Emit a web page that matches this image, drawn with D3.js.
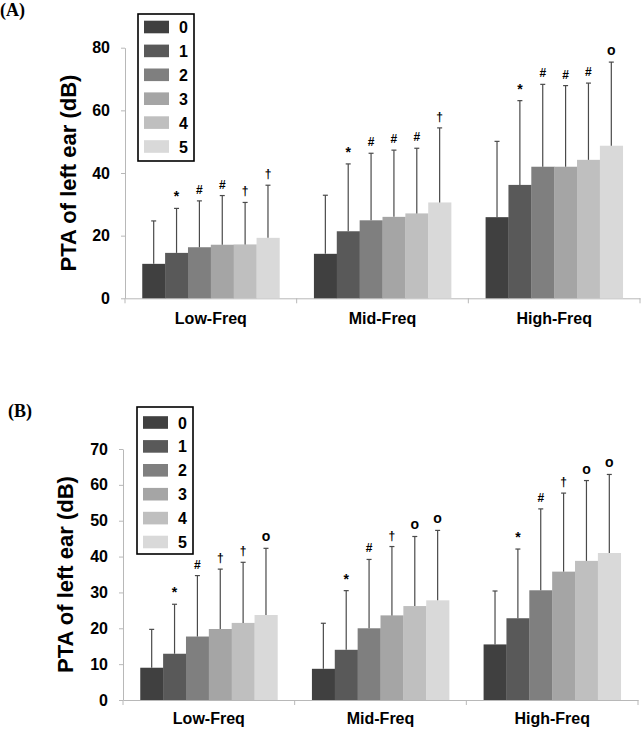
<!DOCTYPE html>
<html>
<head>
<meta charset="utf-8">
<script src="https://cdn.jsdelivr.net/npm/d3@7/dist/d3.min.js"></script>
<style>
  html, body { margin: 0; padding: 0; background: #fff; }
  svg { display: block; }
</style>
</head>
<body>
<svg id="chart" width="641" height="729"></svg>
<script>
const categories = ["Low-Freq", "Mid-Freq", "High-Freq"];
const groups = ["0", "1", "2", "3", "4", "5"];
const colors = ["#404040", "#595959", "#7f7f7f", "#a5a5a5", "#bfbfbf", "#d9d9d9"];

// Panel A: mean and SD per category (rows) and group (columns)
const meanA = [
  [11.0, 14.5, 16.3, 17.1, 17.2, 19.3],
  [14.2, 21.4, 24.9, 26.0, 27.1, 30.6],
  [25.9, 36.2, 42.0, 42.0, 44.2, 48.7]
];
const sdA = [
  [13.7, 14.2, 14.8, 15.7, 13.4, 16.8],
  [18.7, 21.5, 21.4, 21.3, 20.8, 23.8],
  [24.2, 26.9, 26.3, 25.9, 24.5, 26.7]
];
const markA = [
  ["", "*", "#", "#", "†", "†"],
  ["", "*", "#", "#", "#", "†"],
  ["", "*", "#", "#", "#", "o"]
];
const ticksA = [0, 20, 40, 60, 80];

// Panel B
const meanB = [
  [9.0, 12.9, 17.7, 19.8, 21.5, 23.7],
  [8.7, 14.0, 20.0, 23.6, 26.2, 27.8],
  [15.5, 22.8, 30.6, 35.8, 38.8, 41.0]
];
const sdB = [
  [10.7, 13.8, 17.0, 16.7, 16.9, 18.6],
  [12.7, 16.5, 19.2, 19.2, 19.4, 19.5],
  [14.9, 19.3, 22.7, 21.9, 22.4, 21.9]
];
const markB = [
  ["", "*", "#", "†", "†", "o"],
  ["", "*", "#", "†", "o", "o"],
  ["", "*", "#", "†", "o", "o"]
];
const ticksB = [0, 10, 20, 30, 40, 50, 60, 70];

const yTitle = "PTA of left ear (dB)";
const font = "'Liberation Sans', Arial, Helvetica, sans-serif";

const svg = d3.select("#chart");

function panel(cfg) {
  const g = svg.append("g");
  const x = d3.scaleBand().domain(categories).range([cfg.x0, cfg.x1]);
  const xi = d3.scaleBand().domain(groups).range([0, x.bandwidth()]).paddingOuter(0.755);
  const y = d3.scaleLinear().domain([0, cfg.ymax]).range([cfg.yBottom, cfg.yTop]);

  // panel label
  g.append("text").attr("x", cfg.labX).attr("y", cfg.labY)
    .attr("font-family", "'Liberation Serif', 'Times New Roman', serif")
    .attr("font-weight", "bold").attr("font-size", 18).attr("fill", "#000")
    .text(cfg.label);

  // y axis
  const ya = g.append("g").attr("transform", `translate(${cfg.x0},0)`)
    .call(d3.axisLeft(y).tickValues(cfg.ticks).tickSize(4).tickSizeOuter(0).tickPadding(11));
  ya.select(".domain").attr("stroke", "#b8b8b8");
  ya.selectAll(".tick line").attr("stroke", "#b8b8b8");
  ya.selectAll(".tick text").attr("font-family", font).attr("font-weight", "bold")
    .attr("font-size", 16).attr("fill", "#000");

  // x axis
  const xa = g.append("g").attr("transform", `translate(0,${cfg.yBottom})`)
    .call(d3.axisBottom(x).tickSize(0).tickPadding(cfg.xPad));
  xa.select(".domain").attr("stroke", "#b8b8b8");
  xa.selectAll(".tick text").attr("font-family", font).attr("font-weight", "bold")
    .attr("font-size", 16).attr("fill", "#000");
  // boundary ticks between categories
  const bounds = [cfg.x0].concat(categories.map(c => x(c) + x.bandwidth()));
  g.selectAll(".bt").data(bounds).join("line")
    .attr("x1", d => d).attr("x2", d => d)
    .attr("y1", cfg.yBottom).attr("y2", cfg.yBottom + 5)
    .attr("stroke", "#b8b8b8");

  // y title
  g.append("text")
    .attr("transform", `translate(${cfg.titleX},${(cfg.yTop + cfg.yBottom) / 2}) rotate(-90)`)
    .attr("text-anchor", "middle")
    .attr("font-family", font).attr("font-weight", "bold").attr("font-size", 22)
    .attr("fill", "#000").text(yTitle);

  // bars
  categories.forEach((c, ci) => {
    const cg = g.append("g").attr("transform", `translate(${x(c)},0)`);
    groups.forEach((gr, gi) => {
      const m = cfg.mean[ci][gi], s = cfg.sd[ci][gi];
      const bx = xi(gr), bw = xi.bandwidth(), cx = bx + bw / 2;
      cg.append("rect").attr("x", bx).attr("width", bw + 0.3)
        .attr("y", y(m)).attr("height", y(0) - y(m)).attr("fill", colors[gi]);
      cg.append("line").attr("x1", cx).attr("x2", cx)
        .attr("y1", y(m)).attr("y2", y(m + s))
        .attr("stroke", "#4a4a4a").attr("stroke-width", 1.2);
      cg.append("line").attr("x1", cx - 2.5).attr("x2", cx + 2.5)
        .attr("y1", y(m + s)).attr("y2", y(m + s))
        .attr("stroke", "#4a4a4a").attr("stroke-width", 1.2);
      const mk = cfg.mark[ci][gi];
      if (mk) {
        cg.append("text").attr("x", cx).attr("y", y(m + s) - 7)
          .attr("text-anchor", "middle")
          .attr("font-family", font).attr("font-weight", "bold")
          .attr("font-size", mk === "o" ? 14 : (mk === "*" ? 14 : 12))
          .attr("fill", "#000").text(mk);
      }
    });
  });

  // legend
  const lg = g.append("g");
  lg.append("rect").attr("x", cfg.legX).attr("y", cfg.legY)
    .attr("width", 56).attr("height", 147)
    .attr("fill", "#fff").attr("stroke", "#000").attr("stroke-width", 1.6);
  groups.forEach((gr, gi) => {
    const cy = cfg.legY + cfg.legFirst + gi * 23.9;
    lg.append("rect").attr("x", cfg.legX + 6).attr("y", cy - 6.3)
      .attr("width", 25).attr("height", 12.6).attr("fill", colors[gi]);
    lg.append("text").attr("x", cfg.legX + 41).attr("y", cy + 6)
      .attr("font-family", font).attr("font-weight", "bold").attr("font-size", 16)
      .attr("fill", "#000").text(gr);
  });
}

panel({
  label: "(A)", labX: 0, labY: 16,
  x0: 125, x1: 640, yTop: 47.7, yBottom: 298.3, ymax: 80, ticks: ticksA,
  mean: meanA, sd: sdA, mark: markA, titleX: 76, xPad: 14,
  legX: 138, legY: 14, legFirst: 13
});
panel({
  label: "(B)", labX: 8, labY: 417,
  x0: 123, x1: 638, yTop: 449, yBottom: 700, ymax: 70, ticks: ticksB,
  mean: meanB, sd: sdB, mark: markB, titleX: 73, xPad: 12.5,
  legX: 137, legY: 407, legFirst: 15.5
});
</script>
</body>
</html>
